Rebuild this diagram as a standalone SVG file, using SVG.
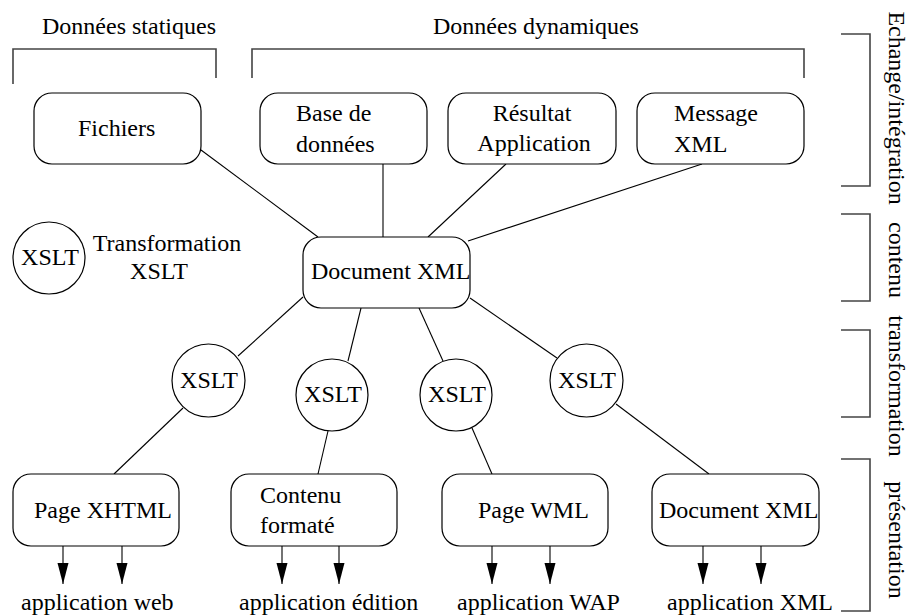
<svg xmlns="http://www.w3.org/2000/svg" width="911" height="615" viewBox="0 0 911 615">
<defs>
<style>
text{font-family:"Liberation Serif","Times New Roman",serif;font-size:24px;fill:#000}
.box{fill:#fff;stroke:#000;stroke-width:1.2}
.circ{fill:#fff;stroke:#000;stroke-width:1.2}
.ln{stroke:#000;stroke-width:1.1;fill:none}
.br{stroke:#444;stroke-width:1.6;fill:none}
.mid{text-anchor:middle}
</style>
<marker id="ah" markerUnits="userSpaceOnUse" markerWidth="22" markerHeight="12" refX="21" refY="5.5" orient="auto">
<path d="M0,0 L21,5.5 L0,11 z" fill="#000"/>
</marker>
</defs>
<rect width="911" height="615" fill="#fff"/>

<g id="brackets">
<path class="br" d="M13,84 V49 H216 V78"/>
<path class="br" d="M252,78 V49 H804 V78"/>
<path class="br" d="M841,34 H870 V186 H841"/>
<path class="br" d="M841,214 H870 V301 H841"/>
<path class="br" d="M841,330 H870 V417 H841"/>
<path class="br" d="M841,459 H870 V611 H841"/>
</g>
<g id="bracket-labels">
<text x="42" y="34">Données statiques</text>
<text x="433" y="34">Données dynamiques</text>
<text class="mid" transform="translate(889,108) rotate(90)">Echange/intégration</text>
<text class="mid" transform="translate(889,260) rotate(90)">contenu</text>
<text class="mid" transform="translate(889,386) rotate(90)">transformation</text>
<text class="mid" transform="translate(889,540) rotate(90)">présentation</text>
</g>

<g id="connectors">
<line class="ln" x1="201" y1="150" x2="318" y2="237"/>
<line class="ln" x1="383" y1="164" x2="383" y2="237"/>
<line class="ln" x1="506" y1="164" x2="428" y2="237"/>
<line class="ln" x1="702" y1="164" x2="468" y2="241"/>
<line class="ln" x1="303" y1="297" x2="238" y2="356"/>
<line class="ln" x1="361" y1="308" x2="348" y2="361"/>
<line class="ln" x1="419" y1="308" x2="443" y2="361"/>
<line class="ln" x1="470" y1="298" x2="557" y2="358"/>
<line class="ln" x1="183" y1="408" x2="114" y2="474"/>
<line class="ln" x1="328" y1="431" x2="318" y2="474"/>
<line class="ln" x1="472" y1="428" x2="492" y2="474"/>
<line class="ln" x1="616" y1="404" x2="709" y2="474"/>
<line class="ln" x1="63" y1="546" x2="63" y2="584" marker-end="url(#ah)"/>
<line class="ln" x1="122" y1="546" x2="122" y2="584" marker-end="url(#ah)"/>
<line class="ln" x1="282" y1="546" x2="282" y2="584" marker-end="url(#ah)"/>
<line class="ln" x1="339" y1="546" x2="339" y2="584" marker-end="url(#ah)"/>
<line class="ln" x1="492" y1="546" x2="492" y2="584" marker-end="url(#ah)"/>
<line class="ln" x1="550" y1="546" x2="550" y2="584" marker-end="url(#ah)"/>
<line class="ln" x1="703" y1="546" x2="703" y2="584" marker-end="url(#ah)"/>
<line class="ln" x1="761" y1="546" x2="761" y2="584" marker-end="url(#ah)"/>
</g>

<g id="fichiers"><rect class="box" x="34" y="93" width="167" height="71" rx="18"/><text x="78" y="136">Fichiers</text></g>
<g id="base"><rect class="box" x="260" y="93" width="167" height="71" rx="18"/><text x="296" y="121">Base de</text><text x="296" y="152">données</text></g>
<g id="resultat"><rect class="box" x="448" y="93" width="168" height="71" rx="18"/><text class="mid" x="532" y="121">Résultat</text><text class="mid" x="534" y="151">Application</text></g>
<g id="message"><rect class="box" x="637" y="93" width="167" height="71" rx="18"/><text x="674" y="121">Message</text><text x="674" y="152">XML</text></g>

<g id="legend"><circle class="circ" cx="49" cy="258" r="36"/><text class="mid" x="50" y="265">XSLT</text><text class="mid" x="167" y="251">Transformation</text><text class="mid" x="159" y="279">XSLT</text></g>

<g id="docxml"><rect class="box" x="303" y="237" width="167" height="71" rx="18"/><text x="311" y="279">Document XML</text></g>

<g id="xslt1"><circle class="circ" cx="208.5" cy="380.5" r="36.5"/><text class="mid" x="209" y="388">XSLT</text></g>
<g id="xslt2"><circle class="circ" cx="332" cy="395" r="36"/><text class="mid" x="333" y="402">XSLT</text></g>
<g id="xslt3"><circle class="circ" cx="456" cy="395" r="36"/><text class="mid" x="457" y="402">XSLT</text></g>
<g id="xslt4"><circle class="circ" cx="586.5" cy="380.5" r="36.5"/><text class="mid" x="587" y="388">XSLT</text></g>

<g id="xhtml"><rect class="box" x="13" y="474" width="166" height="72" rx="18"/><text x="34" y="518">Page XHTML</text></g>
<g id="contenu"><rect class="box" x="231" y="474" width="166" height="72" rx="18"/><text x="260" y="503">Contenu</text><text x="260" y="533">formaté</text></g>
<g id="wml"><rect class="box" x="442" y="474" width="166" height="72" rx="18"/><text x="478" y="518">Page WML</text></g>
<g id="docxml2"><rect class="box" x="652" y="474" width="167" height="72" rx="18"/><text x="659" y="518">Document XML</text></g>

<g id="outputs">
<text x="21" y="610">application web</text>
<text x="239" y="610">application édition</text>
<text x="457" y="610">application WAP</text>
<text x="667" y="610">application XML</text>
</g>
</svg>
